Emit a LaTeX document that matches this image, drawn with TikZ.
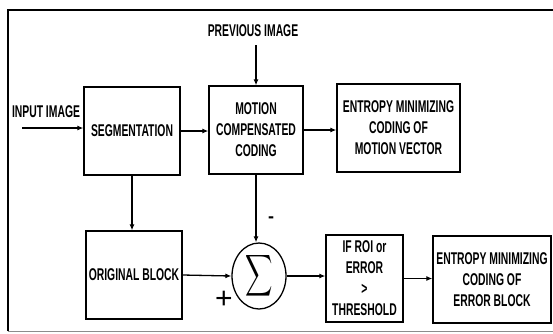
\documentclass[tikz,border=0pt]{standalone}
\usepackage{fontspec}
\setmainfont{Liberation Sans}[FakeStretch=0.61]
\newfontfamily\plainsans{Liberation Sans}
\usetikzlibrary{arrows.meta,shapes.geometric}
\begin{document}
\begin{tikzpicture}[x=1pt,y=-1pt,
  every node/.style={font=\fontsize{17}{21}\selectfont\bfseries},
  blk/.style={draw, line width=1.3pt, align=center, inner sep=0pt},
  lbl/.style={inner sep=0pt},
  arr/.style={line width=1.3pt, -{Latex[length=6pt,width=5pt]}}]
\useasboundingbox (0,0) rectangle (553,333);
% frame
\draw[line width=2.5pt] (8,331) -- (8,10) -- (560,10);
\draw[line width=0.8pt, black!45] (8,331) -- (560,331);
% blocks
\node[blk, minimum width=96pt, minimum height=88pt] (seg) at (132,131) {SEGMENTATION};
\node[blk, minimum width=94pt, minimum height=88pt] (mcc) at (256,130) {MOTION\\COMPENSATED\\CODING};
\node[blk, minimum width=123pt, minimum height=88pt] (emv) at (398.5,128) {ENTROPY MINIMIZING\\CODING OF\\MOTION VECTOR};
\node[blk, minimum width=96pt, minimum height=88pt] (orig) at (134,275) {ORIGINAL BLOCK};
\node[draw, line width=1.3pt, ellipse, minimum width=54pt, minimum height=66pt, inner sep=0pt] (sig) at (259,276) {\scalebox{1.9}[2.9]{$\displaystyle\sum$}};
\node[blk, minimum width=77pt, minimum height=87pt] (roi) at (364.5,278.5) {IF ROI or\\ERROR\\>\\THRESHOLD};
\node[blk, minimum width=118pt, minimum height=87pt] (eeb) at (492,279.5) {ENTROPY MINIMIZING\\CODING OF\\ERROR BLOCK};
% free labels
\node[lbl] (inl) at (46,112) {INPUT IMAGE};
\node[lbl] (prl) at (253,31) {PREVIOUS IMAGE};
\node[lbl, font=\plainsans\fontsize{18}{18}\selectfont\bfseries] (minus) at (271,220) {-};
\node[lbl, font=\plainsans\fontsize{30}{30}\selectfont] (plus) at (224,300) {+};
% connectors
\coordinate (in) at (22,128);
\coordinate (pv) at (256,45);
\draw[arr] (in) -- (in -| seg.west);
\draw[arr] (pv) -- (mcc.north);
\draw[arr] (seg.east) -- (seg.east -| mcc.west);
\draw[arr] (mcc.east) -- (mcc.east -| emv.west);
\draw[arr] (seg.south) -- (seg.south |- orig.north);
\draw[arr] (mcc.south) -- (mcc.south |- sig.north);
\draw[arr] (orig.east) -- (sig.west);
\draw[arr] (sig.east) -- (sig.east -| roi.west);
\draw[arr] (roi.east) -- (roi.east -| eeb.west);
\end{tikzpicture}
\end{document}
